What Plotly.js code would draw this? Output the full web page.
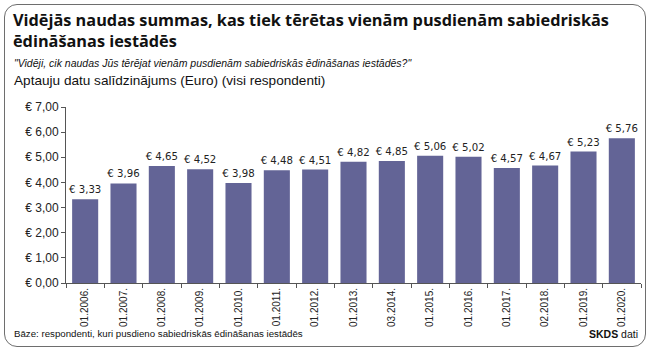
<!DOCTYPE html>
<html>
<head>
<meta charset="utf-8">
<script src="https://cdn.plot.ly/plotly-3.0.1.min.js"></script>
<style>
  html, body { margin: 0; padding: 0; background: #fff; }
  #wrap { position: relative; width: 650px; height: 351px; }
  #chart { width: 650px; height: 351px; }
  #frame { position: absolute; left: 4px; top: 4px; width: 640px; height: 341px;
           border: 1.5px solid #6e6e6e; border-radius: 13px; pointer-events: none; }
</style>
</head>
<body>
<div id="wrap">
  <div id="chart"></div>
  <div id="frame"></div>
</div>
<script>
const categories = ["01.2006.", "01.2007.", "01.2008.", "01.2009.", "01.2010.", "01.2011.", "01.2012.", "01.2013.", "03.2014.", "01.2015.", "01.2016.", "01.2017.", "02.2018.", "01.2019.", "01.2020."];
const values = [3.33, 3.96, 4.65, 4.52, 3.98, 4.48, 4.51, 4.82, 4.85, 5.06, 5.02, 4.57, 4.67, 5.23, 5.76];
const yTickValues = [0, 1, 2, 3, 4, 5, 6, 7];
const yTickLabels = ["€ 0,00", "€ 1,00", "€ 2,00", "€ 3,00", "€ 4,00", "€ 5,00", "€ 6,00", "€ 7,00"];

const titleText = "Vidējās naudas summas, kas tiek tērētas vienām pusdienām sabiedriskās<br>ēdināšanas iestādēs";
const questionText = "\"Vidēji, cik naudas Jūs tērējat vienām pusdienām sabiedriskās ēdināšanas iestādēs?\"";
const subtitleText = "Aptauju datu salīdzinājums (Euro) (visi respondenti)";
const baseText = "Bāze: respondenti, kuri pusdieno sabiedriskās ēdināšanas iestādēs";
const sourceText = "<b>SKDS</b> dati";

// plot area pixel geometry
const L = 66, R = 641, T = 107, B = 283;
const px = x => (x - L) / (R - L);
const py = y => (B - y) / (B - T);

const condensed = "DejaVu Sans Condensed, Liberation Sans Narrow, sans-serif";
const trace = {
  type: "bar",
  x: categories,
  y: values,
  marker: { color: "#636496", line: { width: 0 } },
  texttemplate: "€ %{y:.2f}",
  textposition: "outside",
  constraintext: "none",
  cliponaxis: false,
  textfont: { family: condensed, size: 11.3, color: "#222" },
  hoverinfo: "skip"
};

const sans = "Liberation Sans, Arial, sans-serif";
const layout = {
  width: 650, height: 351,
  margin: { l: L, r: 650 - R, t: T, b: 351 - B, pad: 0 },
  separators: ", ",
  paper_bgcolor: "#fff",
  plot_bgcolor: "#fff",
  showlegend: false,
  bargap: 0.32,
  xaxis: {
    type: "category",
    tickangle: -90,
    tickfont: { family: sans, size: 10, color: "#222" },
    showline: true, linecolor: "#555", linewidth: 1,
    ticks: "outside", ticklen: 4, tickcolor: "#555",
    tickson: "boundaries",
    showgrid: false, zeroline: false
  },
  yaxis: {
    range: [0, 7],
    tickmode: "array",
    tickvals: yTickValues,
    ticktext: yTickLabels,
    tickfont: { family: sans, size: 12, color: "#222" },
    showline: true, linecolor: "#555", linewidth: 1,
    ticks: "outside", ticklen: 4, tickcolor: "#555",
    showgrid: false, zeroline: false
  },
  annotations: [
    { text: titleText, xref: "paper", yref: "paper", x: px(11), y: py(7), xanchor: "left", yanchor: "top",
      align: "left", showarrow: false,
      font: { family: "Open Sans, sans-serif", size: 16.3, color: "#111", weight: "bold" } },
    { text: "<i>" + questionText + "</i>", xref: "paper", yref: "paper", x: px(12), y: py(55), xanchor: "left", yanchor: "top",
      showarrow: false, font: { family: sans, size: 10.5, color: "#111" } },
    { text: subtitleText, xref: "paper", yref: "paper", x: px(12), y: py(71), xanchor: "left", yanchor: "top",
      showarrow: false, font: { family: sans, size: 13.6, color: "#111" } },
    { text: baseText, xref: "paper", yref: "paper", x: px(12), y: py(326), xanchor: "left", yanchor: "top",
      showarrow: false, font: { family: sans, size: 9.7, color: "#111" } },
    { text: sourceText, xref: "paper", yref: "paper", x: px(640), y: py(326), xanchor: "right", yanchor: "top",
      showarrow: false, font: { family: sans, size: 10.5, color: "#111" } }
  ]
};

Plotly.newPlot("chart", [trace], layout, { displayModeBar: false, staticPlot: true });
</script>
</body>
</html>
